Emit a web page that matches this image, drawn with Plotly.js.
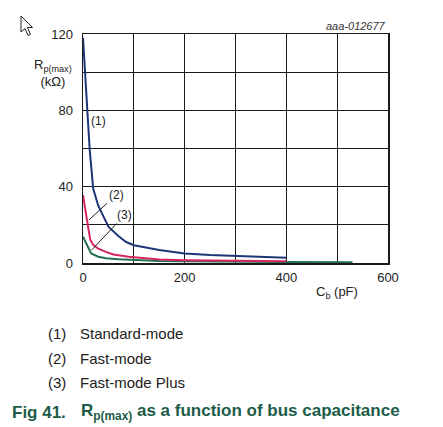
<!DOCTYPE html>
<html>
<head>
<meta charset="utf-8">
<script src="https://cdn.plot.ly/plotly-3.0.1.min.js"></script>
<style>
html,body{margin:0;padding:0;background:#fff;}
#wrap{position:relative;width:443px;height:427px;}
#chart{width:443px;height:427px;}
#cursor{position:absolute;left:20px;top:15px;}
</style>
</head>
<body>
<div id="wrap">
<div id="chart"></div>
<svg id="cursor" width="16" height="24" viewBox="0 0 16 24">
<path d="M1,1 L1,17 L5,13.5 L8,20.5 L10.5,19.5 L7.5,12.5 L12.5,12.5 Z" fill="#fff" stroke="#222" stroke-width="1"/>
</svg>
</div>
<script>
// Standard-mode (1)
var stdCb = [0, 10, 13, 20, 30, 50, 70, 85, 100, 150, 200, 250, 300, 350, 400];
var stdRp = [118, 70, 60, 39, 30, 19, 14, 11, 9.3, 6.8, 5.0, 4.2, 3.7, 3.2, 2.8];
// Fast-mode (2)
var fastCb = [0, 10, 14, 20, 30, 45, 60, 90, 120, 150, 200, 300, 400];
var fastRp = [35.5, 20, 12.5, 9.5, 7.5, 5.8, 4.5, 3.3, 2.4, 1.8, 1.5, 1.1, 0.9];
// Fast-mode Plus (3)
var plusCb = [0, 16, 30, 45, 70, 100, 150, 200, 300, 400, 530];
var plusRp = [13.8, 5.0, 3.3, 2.5, 1.9, 1.5, 1.1, 0.9, 0.6, 0.5, 0.4];

var yTickVals = [0, 20, 40, 60, 80, 100, 120];
var yTickText = ['0', '', '40', '', '80', '', '120'];
var xTickVals = [0, 100, 200, 300, 400, 500, 600];
var xTickText = ['0', '', '200', '', '400', '', '600'];

var legendKeys = ['(1)', '(2)', '(3)'];
var legendNames = ['Standard-mode', 'Fast-mode', 'Fast-mode Plus'];

var traces = [
  {x: plusCb, y: plusRp, mode: 'lines', line: {color: '#23704f', width: 2}, hoverinfo: 'skip'},
  {x: fastCb, y: fastRp, mode: 'lines', line: {color: '#d7255e', width: 2}, hoverinfo: 'skip'},
  {x: stdCb, y: stdRp, mode: 'lines', line: {color: '#1f3676', width: 2}, hoverinfo: 'skip'}
];

var font = 'Liberation Sans, Arial, sans-serif';
var ann = [];
function pa(x, y, text, size, color, xanchor) {
  return {x: x, y: y, xref: 'paper', yref: 'paper', xanchor: xanchor || 'center', yanchor: 'middle',
          text: text, showarrow: false, font: {size: size, color: color || '#222'}};
}
// curve labels
ann.push({x: 29.5, y: 74.5, xref: 'x', yref: 'y', xanchor: 'center', yanchor: 'middle', text: '(1)', showarrow: false, font: {size: 12, color: '#222'}});
ann.push({x: 12, y: 22.6, xref: 'x', yref: 'y', text: '(2)', showarrow: true, arrowhead: 0, arrowwidth: 1, arrowcolor: '#222', ax: 27, ay: -25, font: {size: 12, color: '#222'}});
ann.push({x: 17, y: 6.8, xref: 'x', yref: 'y', text: '(3)', showarrow: true, arrowhead: 0, arrowwidth: 1, arrowcolor: '#222', ax: 33, ay: -35, font: {size: 12, color: '#222'}});
// axis titles
var yt = pa(-0.098, 0.83, 'R<sub>p(max)</sub><br>(kΩ)', 13);
yt.align = 'center';
ann.push(yt);
ann.push(pa(0.833, -0.127, 'C<sub>b</sub> (pF)', 13));
// watermark
ann.push(pa(1.0, 1.035, '<i>aaa-012677</i>', 11, '#333', 'right'));
// legend lines
var legY = [-0.306, -0.415, -0.524];
for (var i = 0; i < legendKeys.length; i++) {
  ann.push(pa(-0.122, legY[i], legendKeys[i], 15, '#222', 'left'));
  ann.push(pa(-0.017, legY[i], legendNames[i], 15, '#222', 'left'));
}
// caption
ann.push(pa(-0.24, -0.651, '<b>Fig 41.</b>', 17, '#1c5c48', 'left'));
ann.push(pa(-0.013, -0.651, '<b>R<sub>p(max)</sub> as a function of bus capacitance</b>', 17, '#1c5c48', 'left'));

var layout = {
  width: 443, height: 427,
  margin: {l: 83, r: 55, t: 34, b: 164},
  paper_bgcolor: '#fff', plot_bgcolor: '#fff',
  showlegend: false,
  font: {family: font, size: 13, color: '#222'},
  xaxis: {range: [0, 600], tickvals: xTickVals, ticktext: xTickText, showgrid: true, gridcolor: '#1a1a1a', gridwidth: 1,
          showline: true, linecolor: '#1a1a1a', linewidth: 1.5, mirror: true, zeroline: false, ticks: '', ticklabelstandoff: 2,
          tickfont: {size: 13, color: '#222'}},
  yaxis: {range: [0, 120], tickvals: yTickVals, ticktext: yTickText, showgrid: true, gridcolor: '#1a1a1a', gridwidth: 1,
          showline: true, linecolor: '#1a1a1a', linewidth: 1.5, mirror: true, zeroline: false, ticks: '', ticklabelstandoff: 6,
          tickfont: {size: 13, color: '#222'}},
  annotations: ann
};

Plotly.newPlot('chart', traces, layout, {displayModeBar: false, staticPlot: true});
</script>
</body>
</html>
